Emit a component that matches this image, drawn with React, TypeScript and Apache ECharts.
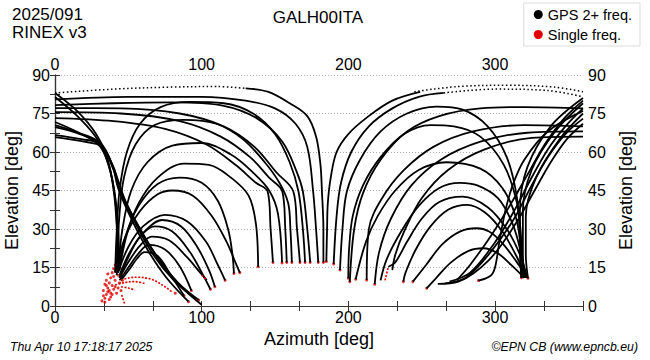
import React, { useEffect, useRef } from "react";
import * as echarts from "echarts";

// ---- tick labels ----
const azTicks = [0, 100, 200, 300];
const elTicks = [0, 15, 30, 45, 60, 75, 90];

// ---- near-zenith dotted passes (az, el) ----
const dottedTracks = [
  [[0, 83], [40, 84.5], [80, 85.3], [110, 85.5], [130, 84.8]],
  [[245, 83.5], [275, 85.5], [310, 86], [340, 85.3], [360, 83.5]],
  [[265, 83], [300, 84.5], [335, 84], [360, 81.5]],
];

// ---- high passes descending near 180 deg ----
const zenithTracks = [
  [[130, 84.8], [145, 83.5], [160, 79], [172, 74], [178, 66], [181, 55], [182, 44.6], [183, 30], [183, 17]],
  [[0, 80.5], [50, 81.5], [100, 81.5], [130, 80], [150, 77], [164, 71], [172, 62], [176, 44.6], [178, 30], [179.5, 17]],
  [[249, 83.4], [230, 80], [213, 73.6], [200, 67], [192, 60], [188, 50], [186, 40], [185.5, 30], [185, 17.3]],
  [[265, 83], [248, 81.5], [230, 77], [214, 70], [202, 60], [195, 48], [192, 35], [190, 16.4]],
];

// ---- left: from north edge down into the NE cluster ----
const neckLeft = [
  [[0, 83], [15, 76], [28, 67], [36, 57], [40, 45], [42, 32], [42.5, 20], [41, 13]],
  [[0, 81.4], [17, 73], [30, 64], [37, 54], [41, 42], [42.5, 28], [43, 18], [42, 12]],
  [[0, 71.7], [18, 67], [31, 62], [38, 52], [42, 38], [43.5, 24], [43, 14]],
];

// ---- left: from north edge, diagonal down to the east ----
const diagLeft = [
  [[0, 70.5], [16, 67.5], [31, 63.5], [39, 55], [43, 46], [52, 34], [63, 22], [76, 11], [91, 1.7]],
  [[0, 69.7], [17, 67], [31, 63], [40, 54], [45, 44], [55, 32], [67, 20], [81, 10], [95.5, 3]],
  [[0, 66.6], [18, 65], [31, 63], [40, 53], [46, 43], [57, 31], [70, 19], [84, 9], [98, 2.3]],
  [[0, 65.8], [20, 64], [32, 62], [41, 52], [48, 41], [59, 29], [72, 17], [87, 7], [100, 0.5]],
];

// ---- left: flat high passes from north edge ----
const flatLeft = [
  [[0, 78.3], [40, 79], [80, 79.3], [115, 78], [138, 73], [155, 64], [165, 52], [169, 44.6], [172, 30], [174, 17]],
  [[0, 77.1], [45, 77], [85, 75], [115, 70], [136, 62], [151, 52], [162.5, 44.6], [165, 30], [167, 17]],
  [[0, 75.5], [45, 75], [85, 72], [113, 66], [133, 58], [146, 50], [155, 44.6], [157, 30], [158, 17]],
  [[0, 73.2], [40, 72], [75, 69], [103, 63], [123, 55], [137, 48], [145, 44.6], [147, 30], [148.6, 17]],
];

// ---- left: rising from NE cluster, arcing over to the south-east ----
const riseLeft = [
  [[41, 13], [42, 28], [44, 45], [49, 60], [58, 71], [72, 77.5], [92, 79.5], [115, 79], [135, 75], [150, 67], [160, 56], [166, 44.6], [169, 30], [170.5, 17]],
  [[42, 14], [43.5, 32], [47, 50], [55, 63], [68, 70.5], [88, 72.5], [110, 71], [128, 65], [143, 56], [153, 48], [159, 40], [160.5, 30], [161.5, 17]],
  [[43, 14], [46, 30], [52, 45], [63, 56], [80, 62.5], [100, 63.5], [120, 59], [135, 52], [146, 45], [152, 36], [154.8, 17]],
  [[44, 14], [49, 28], [57, 40], [70, 50], [88, 55.5], [105, 55], [120, 50], [132, 43], [137, 32], [138.5, 15.3]],
];

// ---- left: low arcs from the NE cluster ----
const arcsLeft = [
  [[43, 13], [48, 27], [57, 39], [70, 47.5], [85, 50], [100, 48], [111, 41], [118, 30], [121, 20], [122, 12.7]],
  [[42, 15], [48, 27], [58, 37], [70, 43.5], [80, 45], [94, 43], [107, 35], [117, 25], [123, 17], [126, 13]],
  [[43, 13], [50, 23], [60, 31], [75, 35.5], [90, 33], [103, 25], [111, 16], [116, 10]],
  [[44, 12], [51, 21], [61, 29], [73, 33.5], [86, 31], [97, 23], [105, 14], [109, 7.5]],
  [[44, 11], [50, 19], [58, 27], [68, 31], [80, 29], [92, 21], [101, 12], [106, 6.5]],
  [[44, 11], [51, 18], [58, 23.5], [66, 27], [78, 25.5], [90, 19], [99, 13], [103.5, 10.1]],
  [[44, 10], [50, 15], [57, 20.5], [64, 23.8], [75, 22], [85, 15.5], [93, 6]],
  [[45, 10], [51, 14.5], [56, 18.5], [61, 21], [70, 19.5], [79, 12], [88, 4]],
];

// ---- right: rising from NW cluster, arcing over to the south-west ----
const arcsRight = [
  [[318, 11], [317, 25], [315, 42], [308, 58], [295, 70], [278, 76.5], [260, 77.7], [240, 75], [222, 68], [208, 57], [199, 44.6], [196, 30], [194.3, 14]],
  [[319, 11], [318, 25], [315, 40], [306, 55], [290, 66], [272, 70], [256, 70.5], [238, 67], [222, 58], [210, 47], [203, 35], [200.5, 22], [200, 10.8]],
  [[320, 11], [318, 22], [314, 35], [305, 46], [290, 53.5], [267, 56], [248, 53], [232, 45], [220, 35], [212, 25], [205, 10.4]],
  [[321, 11], [318, 20], [312, 32], [302, 42], [288, 47], [276, 48], [262, 46], [248, 39], [236, 29], [226, 18], [222, 10]],
  [[322, 11], [317, 20], [308, 30], [295, 38.5], [278, 42.6], [262, 40.5], [250, 34], [240, 25], [232, 17], [227.3, 15.3]],
  [[321, 11], [315, 19], [305, 29], [293, 36.5], [281, 39.4], [268, 37.5], [256, 31], [246, 22], [239, 13], [237.5, 9.5]],
  [[322, 11], [315, 17], [305, 24.5], [296, 29], [287.5, 30.3], [276, 29], [264, 24], [253, 16], [244, 9.5]],
  [[320, 11], [311, 16], [302, 20.5], [292, 22.5], [282, 21.5], [270, 17], [260, 11], [253.4, 6.9]],
];

// ---- right: flat high passes from north edge ----
const flatRight = [
  [[360, 77], [320, 77.5], [290, 77], [262, 74], [240, 68], [222, 57], [210, 44], [204, 30], [201, 9.5]],
  [[360, 70], [320, 70.5], [285, 68], [258, 62], [238, 53], [223, 42], [214, 30], [212.5, 10.1]],
  [[360, 68], [322, 67.5], [290, 64], [263, 57], [243, 47], [229, 34], [221, 21], [218, 8.5]],
  [[360, 66], [325, 65.5], [293, 61], [268, 53], [250, 42], [238, 29], [232, 20], [230, 14]],
];

// ---- right: from north edge, diagonal down to the south-west ----
const diagRight = [
  [[360, 80], [347, 73], [334, 63], [322, 51], [311, 40], [298, 28], [283, 16], [274, 10.1]],
  [[360, 77], [348, 70], [336, 61], [324, 49], [313, 37], [299, 24], [283, 13], [269, 9.5]],
  [[360, 73], [348, 67], [336, 58], [325, 47], [313, 34], [297, 21], [280, 11], [266, 8.8]],
  [[360, 71], [349, 65], [338, 56], [327, 45], [314, 32], [296, 18], [275, 9.5], [261, 8.6]],
];

// ---- right: from north edge down into the NW cluster ----
const neckRight = [
  [[360, 81], [338, 70], [322, 54], [317, 37], [317, 22], [318, 11]],
  [[360, 79], [341, 68], [325, 53], [319, 37], [319, 20], [320, 11]],
  [[360, 75], [344, 65], [328, 50], [321, 35], [321, 20], [322.5, 10.8]],
  [[288.7, 9.9], [297, 11.8], [300, 15], [303, 25], [307, 37], [312, 47], [320, 57], [336, 68], [360, 76]],
];

// ---- single-frequency (red) segments ----
const redTracks = [
  [[45, 10.1], [51, 11], [57, 11.2], [63, 10.8], [68, 9.9], [75, 7.5], [79.5, 5.6]],
  [[41, 8.2], [48, 9.2], [54.5, 9.5], [61, 8.8]],
  [[45, 7.5], [50, 7], [54.5, 6.2]],
  [[45.5, 4.3], [47.7, 0.4]],
  [[225, 10], [227.3, 15.3]],
  [[100, 12], [103.5, 10.1]],
];

// ---- single-frequency (red) points ----
const redPoints = [
  [34, 3], [35, 4.5], [33, 6], [36, 7], [34, 8.5], [37, 9], [35, 10], [38, 11], [36, 12.5], [39, 13],
  [40, 14.5], [41, 16], [42, 17], [38, 5], [40, 6.5], [37, 2.5], [39, 8], [41, 10], [43, 12], [42, 14],
  [44, 15], [36, 5.5], [33, 4], [38, 3.5], [41, 7.5], [44, 9], [46, 10], [45, 12.5], [40, 11.5], [35, 8],
  [37, 6], [39, 4.5], [43, 7], [42, 5], [45, 6], [32, 2], [34, 1.5],
  [122, 12.7], [126, 13], [116, 10], [109, 7.5], [106, 6.5], [98, 2.3], [95.5, 3], [91, 1.7],
  [138.5, 15.3], [148.6, 17], [154.8, 16.8], [158, 17], [161.5, 17], [167, 17], [170.5, 17], [174, 17],
  [179.5, 17], [183, 17], [185, 17.3], [190, 16.4], [194.3, 14], [200, 10.8], [201, 9.5], [205, 10.4],
  [212.5, 10.1], [218, 8.5], [237.5, 9.5], [244, 9.5], [253.4, 6.9], [288.7, 9.9], [318, 11], [322.5, 10.8],
  [88, 4], [93, 6], [82, 5],
];

const FONT = "Liberation Sans";
const BLACK = "GPS 2+ freq.";
const RED = "Single freq.";

export default function App() {
  const ref = useRef<HTMLDivElement>(null);
  useEffect(() => {
    if (!ref.current) return;
    const chart = echarts.init(ref.current, undefined, { renderer: "svg" });

    const blackGroups = [
      zenithTracks, neckLeft, diagLeft, flatLeft, riseLeft, arcsLeft,
      arcsRight, flatRight, diagRight, neckRight,
    ];
    const series: any[] = [];
    blackGroups.forEach((g) =>
      g.forEach((t) =>
        series.push({
          type: "line", name: BLACK, data: t, showSymbol: false, smooth: 0.35,
          silent: true, lineStyle: { color: "#000", width: 1.8 }, itemStyle: { color: "#000" },
        })
      )
    );
    dottedTracks.forEach((t) =>
      series.push({
        type: "line", name: BLACK, data: t, showSymbol: false, smooth: 0.35, silent: true,
        lineStyle: { color: "#000", width: 1.5, type: [1.5, 2.5] }, itemStyle: { color: "#000" },
      })
    );
    redTracks.forEach((t) =>
      series.push({
        type: "line", name: RED, data: t, showSymbol: false, smooth: 0.35, silent: true,
        lineStyle: { color: "#e00000", width: 1.6, type: [2, 1.5] }, itemStyle: { color: "#e00000" },
      })
    );
    series.push({
      type: "scatter", name: RED, data: redPoints, symbolSize: 3, silent: true,
      itemStyle: { color: "#e00000" },
    });

    const labelFmt = (v: number) => {
      const r = Math.round(v / 100) * 100;
      return Math.abs(v - r) < 0.01 && azTicks.includes(r) ? String(r) : "";
    };
    const elFmt = (v: number) => (elTicks.includes(Math.round(v)) ? String(Math.round(v)) : "");
    const axisLineStyle = { color: "#333", width: 1.2 };
    const xBase = {
      type: "value", min: 0, max: 360, interval: 100 / 3,
      axisLine: { show: true, lineStyle: axisLineStyle },
      axisTick: { show: true, inside: true, length: 5, lineStyle: { color: "#333" } },
      axisLabel: { formatter: labelFmt, fontSize: 16, color: "#000", fontFamily: FONT, margin: 3, showMinLabel: true, showMaxLabel: true },
      splitLine: { show: false },
    };
    const yBase = {
      type: "value", min: 0, max: 90, interval: 15,
      axisLine: { show: true, lineStyle: axisLineStyle },
      axisTick: { show: true, inside: true, length: 5, lineStyle: { color: "#333" } },
      minorTick: { show: true, splitNumber: 2, length: 5, lineStyle: { color: "#333" } },
      axisLabel: { formatter: elFmt, fontSize: 16, color: "#000", fontFamily: FONT, margin: 5, showMinLabel: true, showMaxLabel: true },
      nameLocation: "middle", nameRotate: 90,
      nameTextStyle: { fontSize: 18, color: "#000", fontFamily: FONT },
    };

    chart.setOption({
      animation: false,
      textStyle: { fontFamily: FONT },
      grid: { left: 55, right: 67, top: 75, bottom: 54, containLabel: false, outerBoundsMode: "none" },
      legend: {
        orient: "vertical", right: 10, top: 3, itemWidth: 9, itemHeight: 9, itemGap: 5,
        padding: [4, 8, 4, 10], borderColor: "#ddd", borderWidth: 1, backgroundColor: "#fff",
        textStyle: { fontSize: 14.5, color: "#000", fontFamily: FONT },
        data: [
          { name: BLACK, icon: "circle", itemStyle: { color: "#000" } },
          { name: RED, icon: "circle", itemStyle: { color: "#e00000" } },
        ],
        selectedMode: false,
      },
      xAxis: [
        { ...xBase, position: "bottom", name: "Azimuth [deg]", nameLocation: "middle", nameGap: 13,
          nameTextStyle: { fontSize: 18, color: "#000", fontFamily: FONT } },
        { ...xBase, position: "top" },
      ],
      yAxis: [
        { ...yBase, position: "left", name: "Elevation [deg]", nameGap: 24,
          splitLine: { show: true, lineStyle: { color: "#aaa", type: [1, 2], width: 1 } } },
        { ...yBase, position: "right", name: "Elevation [deg]", nameGap: 30, splitLine: { show: false } },
      ],
      graphic: [
        { type: "text", x: 12, y: 6, style: { text: "2025/091", fontSize: 17, fontFamily: FONT, fill: "#000" } },
        { type: "text", x: 12, y: 24, style: { text: "RINEX v3", fontSize: 17, fontFamily: FONT, fill: "#000" } },
        { type: "text", x: 318, y: 9, style: { text: "GALH00ITA", fontSize: 17, fontFamily: FONT, fill: "#000", textAlign: "center" } },
        { type: "text", x: 10, y: 341, style: { text: "Thu Apr 10 17:18:17 2025", fontSize: 12.3, fontStyle: "italic", fontFamily: FONT, fill: "#000" } },
        { type: "text", x: 638, y: 341, style: { text: "\u00A9EPN CB (www.epncb.eu)", fontSize: 12.3, fontStyle: "italic", fontFamily: FONT, fill: "#000", textAlign: "right" } },
      ],
      series,
    });
    return () => chart.dispose();
  }, []);
  return <div ref={ref} style={{ position: "fixed", left: 0, top: 0, width: 650, height: 360, background: "#fff" }} />;
}
